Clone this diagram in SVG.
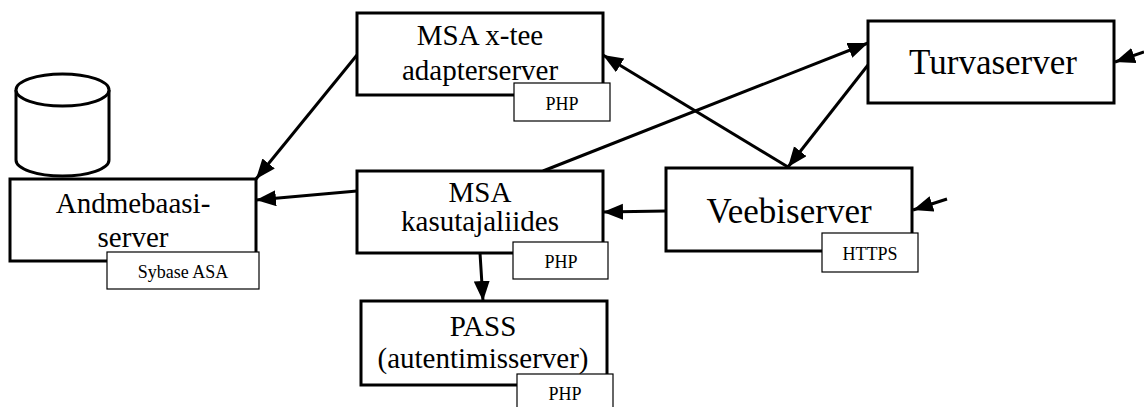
<svg xmlns="http://www.w3.org/2000/svg" width="1144" height="407" viewBox="0 0 1144 407">
<style>
.box{fill:#fff;stroke:#000;stroke-width:3}
.tag{fill:#fff;stroke:#000;stroke-width:1.2}
text{font-family:'Liberation Serif','DejaVu Serif','Times New Roman',serif;text-anchor:middle;fill:#000}
.t{font-size:29px}
.tb{font-size:35px}
.ts{font-size:18px}
.c{stroke:#000;stroke-width:3;fill:none;marker-end:url(#ah)}
</style>
<defs>
<marker id="ah" markerUnits="userSpaceOnUse" markerWidth="22" markerHeight="18" refX="20" refY="8" orient="auto">
<path d="M0,0 L20,8 L0,16 z" fill="#000"/>
</marker>
</defs>
<g id="db">
<path d="M16,90 L16,160 A46.5,16 0 0 0 109,160 L109,90" fill="#fff" stroke="#000" stroke-width="3"/>
<ellipse cx="62.5" cy="90" rx="46.5" ry="16" fill="#fff" stroke="#000" stroke-width="3"/>
</g>
<g id="connectors">
<line class="c" x1="357" y1="55" x2="256" y2="179"/>
<line class="c" x1="357" y1="191" x2="256" y2="200"/>
<line class="c" x1="543" y1="171" x2="868" y2="43"/>
<line class="c" x1="788" y1="167" x2="603" y2="55"/>
<line class="c" x1="666" y1="211" x2="603" y2="212"/>
<line class="c" x1="868" y1="65" x2="788" y2="167"/>
<line class="c" x1="1144" y1="52" x2="1115" y2="62"/>
<line class="c" x1="947" y1="199" x2="913" y2="210"/>
<line class="c" x1="480" y1="253" x2="483" y2="301"/>
</g>
<g id="andmebaasi">
<rect class="box" x="10" y="179" width="246" height="82"/>
<text class="t" x="133" y="213" font-family="Liberation Serif, serif">Andmebaasi-</text>
<text class="t" x="133" y="247" font-family="Liberation Serif, serif">server</text>
<rect class="tag" x="107" y="252" width="152" height="37"/>
<text class="ts" x="183" y="278" font-family="Liberation Serif, serif">Sybase ASA</text>
</g>
<g id="xtee">
<rect class="box" x="357" y="13" width="246" height="82"/>
<text class="t" x="480" y="45">MSA x-tee</text>
<text class="t" x="480" y="80">adapterserver</text>
<rect class="tag" x="514" y="83" width="96" height="38"/>
<text class="ts" x="562" y="110">PHP</text>
</g>
<g id="kasutajaliides">
<rect class="box" x="357" y="171" width="246" height="82"/>
<text class="t" x="480" y="202">MSA</text>
<text class="t" x="480" y="231">kasutajaliides</text>
<rect class="tag" x="513" y="242" width="95" height="37"/>
<text class="ts" x="561" y="268">PHP</text>
</g>
<g id="pass">
<rect class="box" x="361" y="301" width="246" height="84"/>
<text class="t" x="483" y="336">PASS</text>
<text class="t" x="483" y="368">(autentimisserver)</text>
<rect class="tag" x="517" y="374" width="96" height="40"/>
<text class="ts" x="565" y="400">PHP</text>
</g>
<g id="veebiserver">
<rect class="box" x="666" y="168" width="246" height="83"/>
<text class="tb" x="789" y="223">Veebiserver</text>
<rect class="tag" x="822" y="233" width="96" height="39"/>
<text class="ts" x="870" y="260">HTTPS</text>
</g>
<g id="turvaserver">
<rect class="box" x="868" y="21" width="246" height="82"/>
<text class="tb" x="993" y="74">Turvaserver</text>
</g>
</svg>
